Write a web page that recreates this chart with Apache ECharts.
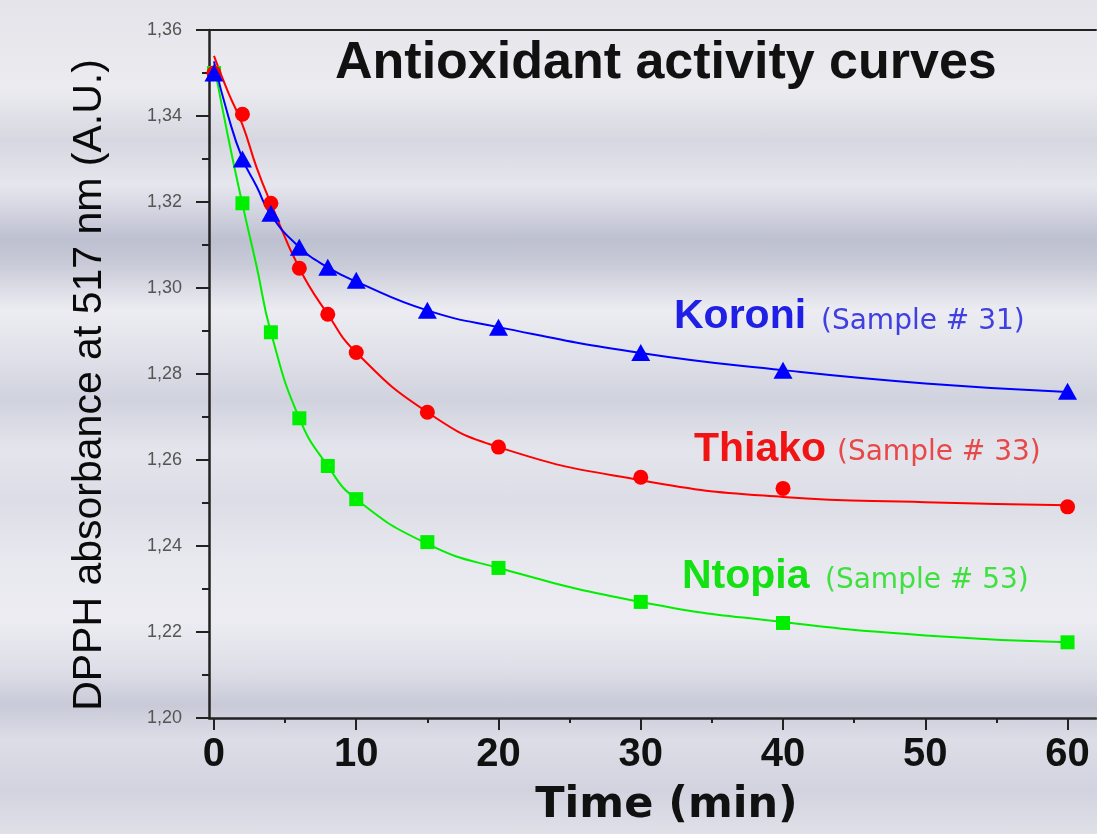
<!DOCTYPE html>
<html>
<head>
<meta charset="utf-8">
<script src="https://cdn.jsdelivr.net/npm/echarts@6/dist/echarts.min.js"></script>
<style>
  html, body { margin: 0; padding: 0; }
  #chart {
    width: 1097px; height: 834px;
    background: linear-gradient(to bottom,
      #e4e4ea 0px, #ebebf0 90px, #d6d7e0 140px, #e6e6ee 185px,
      #bdc0d0 240px, #c9cbd8 265px, #ececf2 310px, #e2e3ea 350px,
      #d0d2de 400px, #e4e5ec 450px, #dcdde6 500px, #e8e8ef 560px,
      #ececf2 620px, #dddee7 670px, #c8cad8 705px, #dcdde6 740px,
      #d2d3df 790px, #e0e0e8 834px);
  }
</style>
</head>
<body>
<div id="chart"></div>
<script>
// measured points
const times = [0, 2, 4, 6, 8, 10, 15, 20, 30, 40, 60]
const koroni = [1.350, 1.330, 1.3174, 1.3095, 1.3048, 1.3018, 1.2948, 1.2909, 1.2850, 1.2809, 1.2760]
const thiako = [1.350, 1.3404, 1.3197, 1.3046, 1.2939, 1.2850, 1.2711, 1.2630, 1.2560, 1.2534, 1.2491]
const ntopia = [1.350, 1.3197, 1.2897, 1.2697, 1.2586, 1.2509, 1.2409, 1.2349, 1.2270, 1.2221, 1.2176]

// fitted curves
const fitTimes = [0, 1, 2, 3, 4, 6, 8, 10, 15, 20, 30, 40, 50, 60]
const koroniFit = [1.3527, 1.340, 1.3301, 1.3236, 1.317, 1.3095, 1.3048, 1.3015, 1.2948, 1.2909, 1.2849, 1.2809, 1.2778, 1.2758]
const thiakoFit = [1.354, 1.3455, 1.338, 1.328, 1.3197, 1.3046, 1.2939, 1.2850, 1.2711, 1.2630, 1.2553, 1.2514, 1.2502, 1.2495]
const ntopiaFit = [1.352, 1.335, 1.3195, 1.305, 1.2897, 1.2697, 1.2586, 1.2509, 1.2405, 1.2349, 1.2270, 1.2223, 1.2192, 1.2176]

const xMajorTicks = [0, 10, 20, 30, 40, 50, 60]
const xMinorTicks = [5, 15, 25, 35, 45, 55]

const blue = '#0000ff'
const red = '#ff0000'
const green = '#00ee00'

const pairs = (xs, ys) => xs.map((x, i) => [x, ys[i]])

const myChart = echarts.init(document.getElementById('chart'))

const xMin = -0.35
const xMax = 62

const option = {
  backgroundColor: 'transparent',
  animation: false,
  grid: { left: 209, right: 1, top: 30, bottom: 116 },
  xAxis: [
    {
      type: 'value',
      position: 'bottom',
      min: xMin,
      max: xMax,
      name: 'Time (min)',
      nameLocation: 'middle',
      nameGap: 66,
      nameTextStyle: {
        fontFamily: 'DejaVu Sans',
        fontWeight: 'bold',
        fontSize: 43,
        color: '#111',
        padding: [0, 0, 0, 28]
      },
      axisLine: { show: true, onZero: false, lineStyle: { color: '#222', width: 2.5 } },
      axisTick: { show: true, customValues: xMajorTicks, length: 12, lineStyle: { color: '#222', width: 2 } },
      axisLabel: {
        customValues: xMajorTicks,
        fontFamily: 'Liberation Sans',
        fontWeight: 'bold',
        fontSize: 40,
        color: '#111',
        margin: 17
      },
      splitLine: { show: false }
    },
    {
      type: 'value',
      position: 'bottom',
      min: xMin,
      max: xMax,
      axisLine: { show: false, onZero: false },
      axisTick: { show: true, customValues: xMinorTicks, length: 5, lineStyle: { color: '#222', width: 2 } },
      axisLabel: { show: false },
      splitLine: { show: false }
    },
    {
      type: 'value',
      position: 'top',
      min: xMin,
      max: xMax,
      axisLine: { show: true, onZero: false, lineStyle: { color: '#222', width: 2 } },
      axisTick: { show: false },
      axisLabel: { show: false },
      splitLine: { show: false }
    }
  ],
  yAxis: {
    type: 'value',
    min: 1.2,
    max: 1.36,
    interval: 0.02,
    name: 'DPPH absorbance at 517 nm (A.U.)',
    nameLocation: 'middle',
    nameGap: 99,
    nameTextStyle: {
      fontFamily: 'Liberation Sans',
      fontSize: 41,
      color: '#0a0a0a',
      padding: [0, 22, 0, 0]
    },
    axisLine: { show: true, onZero: false, lineStyle: { color: '#222', width: 2.5 } },
    axisTick: { show: true, length: 13, lineStyle: { color: '#222', width: 2 } },
    minorTick: { show: true, splitNumber: 2, length: 7, lineStyle: { color: '#222', width: 2 } },
    axisLabel: {
      fontFamily: 'Liberation Sans',
      fontSize: 18,
      color: '#555',
      margin: 27,
      formatter: v => v.toFixed(2).replace('.', ',')
    },
    splitLine: { show: false },
    minorSplitLine: { show: false }
  },
  graphic: [
    { type: 'text', x: 335, y: 64, style: { text: 'Antioxidant activity curves', font: 'bold 52px "Liberation Sans"', fill: '#111', verticalAlign: 'middle' } },
    { type: 'text', x: 674, y: 317, style: { text: 'Koroni', font: 'bold 41px "Liberation Sans"', fill: '#1f1fe6', verticalAlign: 'middle' } },
    { type: 'text', x: 821, y: 322, style: { text: '(Sample # 31)', font: '28px "DejaVu Sans"', fill: '#4040e0', verticalAlign: 'middle' } },
    { type: 'text', x: 694, y: 450, style: { text: 'Thiako', font: 'bold 41px "Liberation Sans"', fill: '#f01414', verticalAlign: 'middle' } },
    { type: 'text', x: 837, y: 453, style: { text: '(Sample # 33)', font: '28px "DejaVu Sans"', fill: '#e84848', verticalAlign: 'middle' } },
    { type: 'text', x: 682, y: 577, style: { text: 'Ntopia', font: 'bold 41px "Liberation Sans"', fill: '#14e014', verticalAlign: 'middle' } },
    { type: 'text', x: 825, y: 581, style: { text: '(Sample # 53)', font: '28px "DejaVu Sans"', fill: '#40e040', verticalAlign: 'middle' } }
  ],
  series: [
    { type: 'line', name: 'Ntopia fit', data: pairs(fitTimes, ntopiaFit), smooth: 0.5, showSymbol: false, lineStyle: { color: green, width: 2 }, z: 2 },
    { type: 'line', name: 'Thiako fit', data: pairs(fitTimes, thiakoFit), smooth: 0.5, showSymbol: false, lineStyle: { color: red, width: 2 }, z: 2 },
    { type: 'line', name: 'Koroni fit', data: pairs(fitTimes, koroniFit), smooth: 0.5, showSymbol: false, lineStyle: { color: blue, width: 2 }, z: 2 },
    { type: 'scatter', name: 'Ntopia', data: pairs(times, ntopia), symbol: 'rect', symbolSize: 14, itemStyle: { color: green, opacity: 1 }, z: 3 },
    { type: 'scatter', name: 'Thiako', data: pairs(times, thiako), symbol: 'circle', symbolSize: 15, itemStyle: { color: red, opacity: 1 }, z: 4 },
    { type: 'scatter', name: 'Koroni', data: pairs(times, koroni), symbol: 'triangle', symbolSize: [19, 17], itemStyle: { color: blue, opacity: 1 }, z: 5 }
  ]
}

myChart.setOption(option)

window.addEventListener('resize', () => {
  myChart.resize()
})
</script>
</body>
</html>
